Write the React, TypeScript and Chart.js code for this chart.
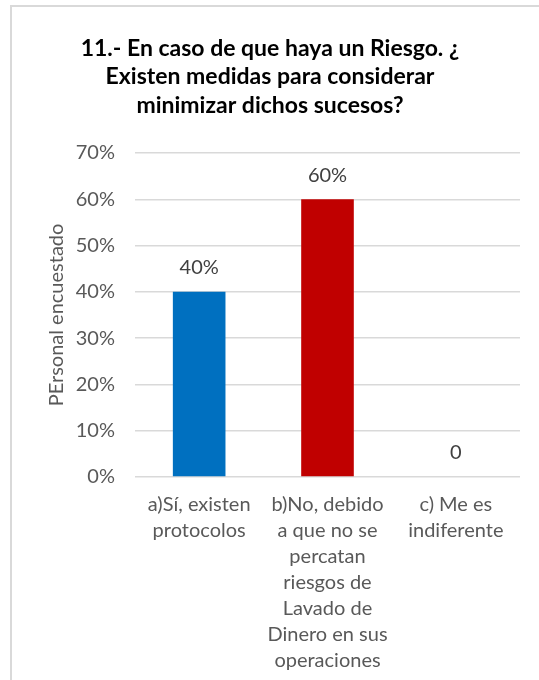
import React, { useEffect, useRef } from "react";
import { Chart, registerables } from "chart.js";

Chart.register(...registerables);

const titleLines = [
  "11.- En caso de que haya un Riesgo. ¿",
  "Existen medidas para considerar",
  "minimizar dichos sucesos?",
];
const categories = [
  ["a)Sí, existen", "protocolos"],
  ["b)No, debido", "a que no se", "percatan", "riesgos de", "Lavado de", "Dinero en sus", "operaciones"],
  ["c) Me es", "indiferente"],
];
const values = [0.4, 0.6, 0];
const valueLabels = ["40%", "60%", "0"];
const barColors = ["#0070C0", "#C00000", "#A5A5A5"];
const yMin = 0;
const yMax = 0.7;
const yStep = 0.1;
const yAxisTitle = "PErsonal encuestado";

const FONT = "Lato, Carlito, Calibri, 'Open Sans', sans-serif";

const dataLabelPlugin = {
  id: "dataLabels",
  afterDatasetsDraw(chart: any) {
    const ctx = chart.ctx;
    const meta = chart.getDatasetMeta(0);
    ctx.save();
    ctx.font = `20px ${FONT}`;
    ctx.fillStyle = "#404040";
    ctx.textAlign = "center";
    ctx.textBaseline = "middle";
    meta.data.forEach((bar: any, i: number) => {
      ctx.fillText(valueLabels[i], bar.x, bar.y - 24);
    });
    ctx.restore();
  },
};

export default function App() {
  const ref = useRef<HTMLCanvasElement | null>(null);
  useEffect(() => {
    if (!ref.current) return;
    const chart = new Chart(ref.current, {
      type: "bar",
      data: {
        labels: categories,
        datasets: [
          {
            data: values,
            backgroundColor: barColors,
            barPercentage: 0.41,
            categoryPercentage: 1,
          },
        ],
      },
      options: {
        animation: false,
        responsive: false,
        layout: { padding: { left: 20, right: 19, top: 0, bottom: 0 } },
        plugins: {
          legend: { display: false },
          tooltip: { enabled: false },
          title: {
            display: true,
            text: titleLines,
            color: "#000000",
            font: { family: FONT, size: 23, weight: "bold", lineHeight: "28.5px" },
            padding: { top: 34, bottom: 33.5 },
          },
        },
        scales: {
          x: {
            grid: { display: false, drawTicks: false },
            border: { display: false },
            afterFit: (scale: any) => {
              scale.height = 203;
            },
            ticks: {
              color: "#595959",
              font: { family: FONT, size: 20, lineHeight: "26px" },
              padding: 15,
              maxRotation: 0,
              autoSkip: false,
            },
          },
          y: {
            min: yMin,
            max: yMax,
            grid: { color: "#d9d9d9", lineWidth: 1.5, drawTicks: false },
            border: { display: false },
            afterFit: (scale: any) => {
              scale.width = 115;
            },
            ticks: {
              stepSize: yStep,
              color: "#595959",
              font: { family: FONT, size: 20 },
              padding: 20,
              callback: (v: any) => Math.round(Number(v) * 100) + "%",
            },
            title: {
              display: true,
              text: yAxisTitle,
              color: "#595959",
              font: { family: FONT, size: 20, lineHeight: 1.2 },
              padding: { top: 25, bottom: 10 },
            },
          },
        },
      },
      plugins: [dataLabelPlugin],
    });
    return () => chart.destroy();
  }, []);

  return (
    <div style={{ position: "fixed", left: 0, top: 0, width: 539, height: 680, background: "#fff", overflow: "hidden" }}>
      <div
        style={{
          position: "absolute",
          left: 10,
          top: 5,
          width: 600,
          height: 720,
          border: "2px solid #d9d9d9",
          boxSizing: "border-box",
        }}
      />
      <canvas ref={ref} width={539} height={680} style={{ position: "absolute", left: 0, top: 0 }} />
    </div>
  );
}
